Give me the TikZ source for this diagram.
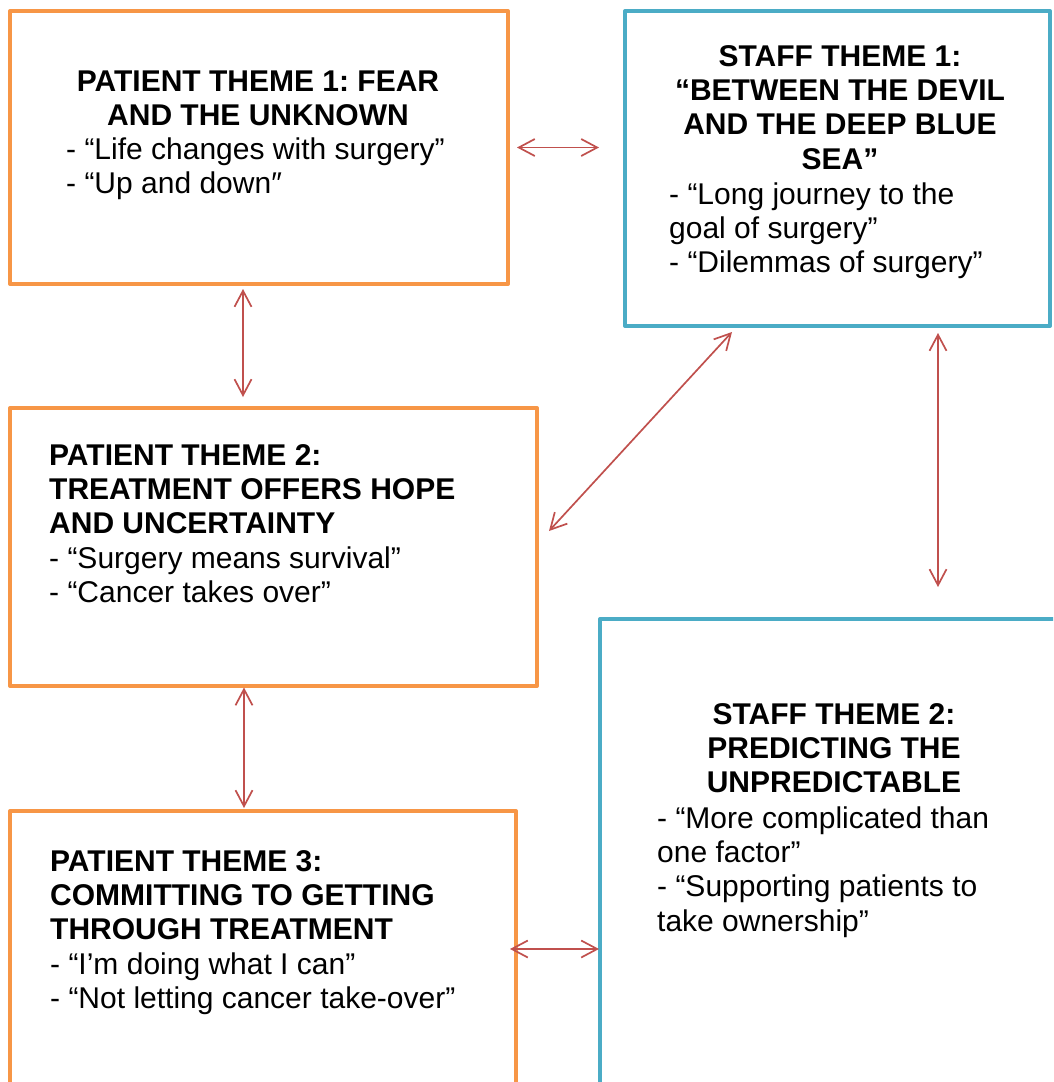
\documentclass[tikz,border=0pt]{standalone}
\usepackage{fontspec}
\setmainfont{Liberation Sans}
\usetikzlibrary{arrows.meta,calc}
\definecolor{themeorange}{HTML}{F79646}
\definecolor{themeteal}{HTML}{4BACC6}
\definecolor{linkred}{HTML}{C0504D}
\frenchspacing
\begin{document}
\begin{tikzpicture}[x=1pt,y=-1pt,
  box/.style={draw, line width=4pt, line join=round, inner sep=0pt, outer sep=0pt},
  patient/.style={box, draw=themeorange},
  staff/.style={box, draw=themeteal},
  ttl/.style={inner sep=0pt, align=center, anchor=north,
    font=\fontsize{30}{34.4}\selectfont\bfseries},
  lst/.style={inner sep=0pt, align=left, anchor=north west,
    font=\fontsize{30}{34.4}\selectfont},
  barb/.tip={Straight Barb[length=16pt,width=17pt]},
  link/.style={draw=linkred, line width=1.7pt, barb-barb}
]
\useasboundingbox (0,0) rectangle (1053,1082);
\clip (0,0) rectangle (1053,1082);

% theme boxes
\node[patient, minimum width=498pt, minimum height=273pt] (p1) at (259,147.5) {};
\node[staff,   minimum width=425pt, minimum height=315pt] (s1) at (837.5,168.5) {};
\node[patient, minimum width=527pt, minimum height=278pt] (p2) at (273.5,547) {};
\node[staff,   minimum width=470pt, minimum height=491pt] (s2) at (835,864.5) {};
\node[patient, minimum width=506pt, minimum height=299pt] (p3) at (263,960.5) {};

% patient theme 1
\node[ttl] (p1title) at (258,66.9) {\strut PATIENT THEME 1: FEAR\\AND THE UNKNOWN};
\node[lst] (p1list) at (66,134.9) {\strut - “Life changes with surgery”\\- “Up and down″};

% staff theme 1
\node[ttl] (s1title) at (840,41.9) {\strut STAFF THEME 1:\\“BETWEEN THE DEVIL\\AND THE DEEP BLUE\\SEA”};
\node[lst] (s1list) at (669,179.9) {\strut - “Long journey to the\\goal of surgery”\\- “Dilemmas of surgery”};

% patient theme 2
\node[lst] (p2text) at (49,440.9) {\strut\textbf{PATIENT THEME 2:}\\\textbf{TREATMENT OFFERS HOPE}\\\textbf{AND UNCERTAINTY}\\- “Surgery means survival”\\- “Cancer takes over”};

% staff theme 2
\node[ttl] (s2title) at (834,699.9) {\strut STAFF THEME 2:\\PREDICTING THE\\UNPREDICTABLE};
\node[lst] (s2list) at (657,803.9) {\strut - “More complicated than\\one factor”\\- “Supporting patients to\\take ownership”};

% patient theme 3
\node[lst] (p3text) at (50,846.9) {\strut\textbf{PATIENT THEME 3:}\\\textbf{COMMITTING TO GETTING}\\\textbf{THROUGH TREATMENT}\\- “I’m doing what I can”\\- “Not letting cancer take-over”};

% links between themes
\draw[link] ($(p1.east)+(9,0)$) -- ($(p1.east -| s1.west)+(-26,0)$);
\draw[link] ($(p1.south)+(-16,5)$) -- ($(p1.south |- p2.north)+(-16,-11)$);
\draw[link] ($(s1.south)+(100.5,7)$) -- ($(s1.south |- s2.north)+(100.5,-32)$);
\draw[link] ($(p2.east)+(12,-16)$) -- ($(s1.south)+(-105.5,6)$);
\draw[link] ($(p2.south)+(-29.5,1.5)$) -- ($(p2.south |- p3.north)+(-29.5,-3)$);
\draw[link] ($(p3.east)+(-6,-11.5)$) -- ($(p3.east -| s2.west)+(-1,-11.5)$);
\end{tikzpicture}
\end{document}
